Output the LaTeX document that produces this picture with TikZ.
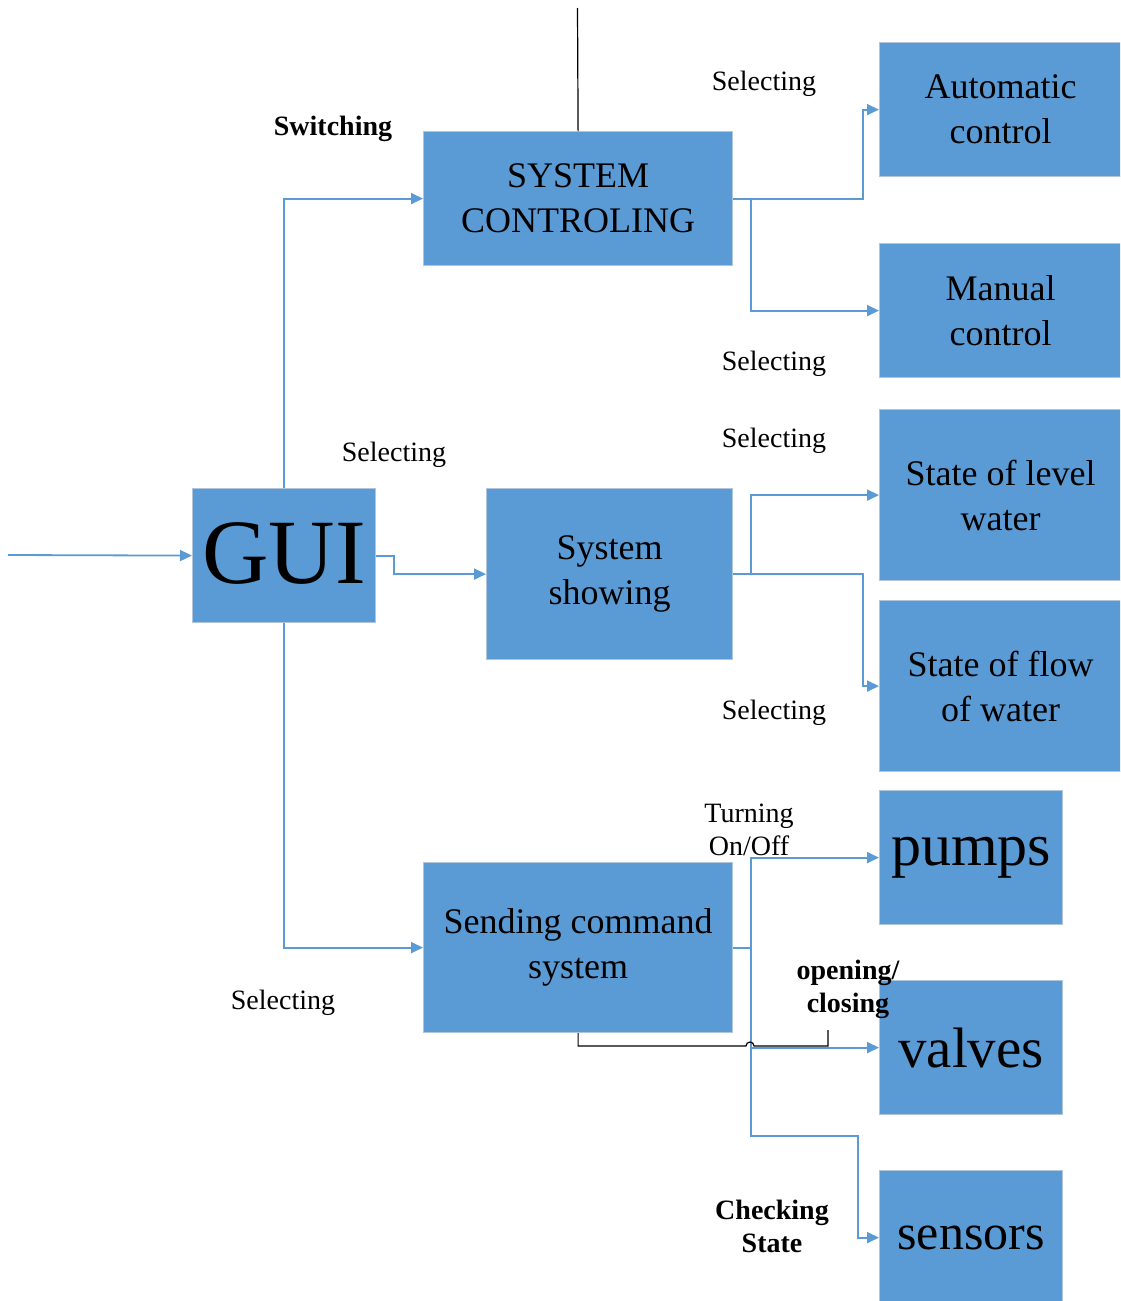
\documentclass[tikz,border=0pt]{standalone}
\usepackage{fontspec}
\setmainfont{Liberation Serif}
\usetikzlibrary{arrows.meta}
\definecolor{boxblue}{RGB}{91,155,213}
\definecolor{boxedge}{RGB}{176,196,220}
\definecolor{linkblue}{RGB}{91,155,213}
\tikzset{
  block/.style={rectangle, fill=boxblue, draw=boxedge, line width=1.2pt,
    inner sep=0pt, anchor=north west, align=center, text=black},
  boxfont/.style={font=\fontsize{36}{45}\selectfont},
  conn/.style={draw=linkblue, line width=1.8pt,
    -{Triangle[length=12pt,width=11pt]}},
  wire/.style={draw=black, line width=1.2pt},
  lbl/.style={font=\fontsize{28}{33}\selectfont, align=center, inner sep=0pt},
  blbl/.style={lbl, font=\fontsize{28}{33}\selectfont\bfseries},
}
\begin{document}
\begin{tikzpicture}[x=1pt,y=-1pt]
\useasboundingbox (0,0) rectangle (1120,1301);
\clip (0,0) rectangle (1120,1301);

% blocks
\node[block, boxfont, minimum width=309pt, minimum height=134pt] (sc) at (423,131) {SYSTEM\\CONTROLING};
\node[block, boxfont, minimum width=242pt, minimum height=134pt] (auto) at (879,42) {Automatic\\control};
\node[block, boxfont, minimum width=242pt, minimum height=134pt] (man) at (879,243) {Manual\\control};
\node[block, font=\fontsize{92}{92}\selectfont, minimum width=183pt, minimum height=134pt] (gui) at (192,488) {\raisebox{6pt}{GUI}};
\node[block, boxfont, minimum width=246pt, minimum height=171pt] (ss) at (486,488) {System\\showing};
\node[block, boxfont, minimum width=242pt, minimum height=171pt] (lvl) at (879,409) {State of level\\water};
\node[block, boxfont, minimum width=242pt, minimum height=171pt] (flow) at (879,600) {State of flow\\of water};
\node[block, boxfont, minimum width=309pt, minimum height=170pt] (cmd) at (423,862) {Sending command\\system};
\node[block, font=\fontsize{60}{60}\selectfont, minimum width=183pt, minimum height=134pt] (pumps) at (879,790) {pumps};
\node[block, font=\fontsize{57}{57}\selectfont, minimum width=183pt, minimum height=134pt] (valves) at (879,980) {valves};
\node[block, font=\fontsize{50}{50}\selectfont, minimum width=183pt, minimum height=134pt] (sensors) at (879,1170) {sensors};

% free ends
\coordinate (in) at (8,555);
\coordinate (topend) at (577.5,8);
\coordinate (tick) at (828,1030);
\coordinate (tickbase) at (828,1046);

% connectors
\draw[conn] (in) -- (gui.west);
\draw[conn] (gui.north) |- (sc.west);
\draw[conn] (gui.east) -- ++(18,0) |- (ss.west);
\draw[conn] (gui.south) |- (cmd.west);
\draw[conn] (sc.east) -- ++(130,0) |- (auto.west);
\draw[conn] (sc.east) -- ++(18,0) |- (man.west);
\draw[conn] (ss.east) -- ++(18,0) |- (lvl.west);
\draw[conn] (ss.east) -- ++(130,0) |- (flow.west);
\draw[conn] (cmd.east) -- ++(18,0) |- (pumps.west);
\draw[conn] (cmd.east) -- ++(18,0) |- (valves.west);
\draw[conn] (cmd.east) -- ++(18,0) |- ++(107,188) |- (sensors.west);

% black wires
\draw[wire] (topend) -- (sc.north);
\draw[wire] (cmd.south) |- (746,1046) arc (180:360:4) -- (tickbase) -- (tick);

% labels
\node[blbl] (lsw) at (333,129) {Switching};
\node[lbl] (l1) at (764,84) {Selecting};
\node[lbl] (l2) at (774,364) {Selecting};
\node[lbl] (l3) at (394,455) {Selecting};
\node[lbl] (l4) at (774,441) {Selecting};
\node[lbl] (l5) at (774,713) {Selecting};
\node[lbl] (l6) at (283,1003) {Selecting};
\node[lbl] (lturn) at (749,830) {Turning\\On/Off};
\node[blbl] (lopen) at (848,989) {opening/\\closing};
\node[blbl] (lcheck) at (772,1226) {Checking\\State};
\end{tikzpicture}
\end{document}
